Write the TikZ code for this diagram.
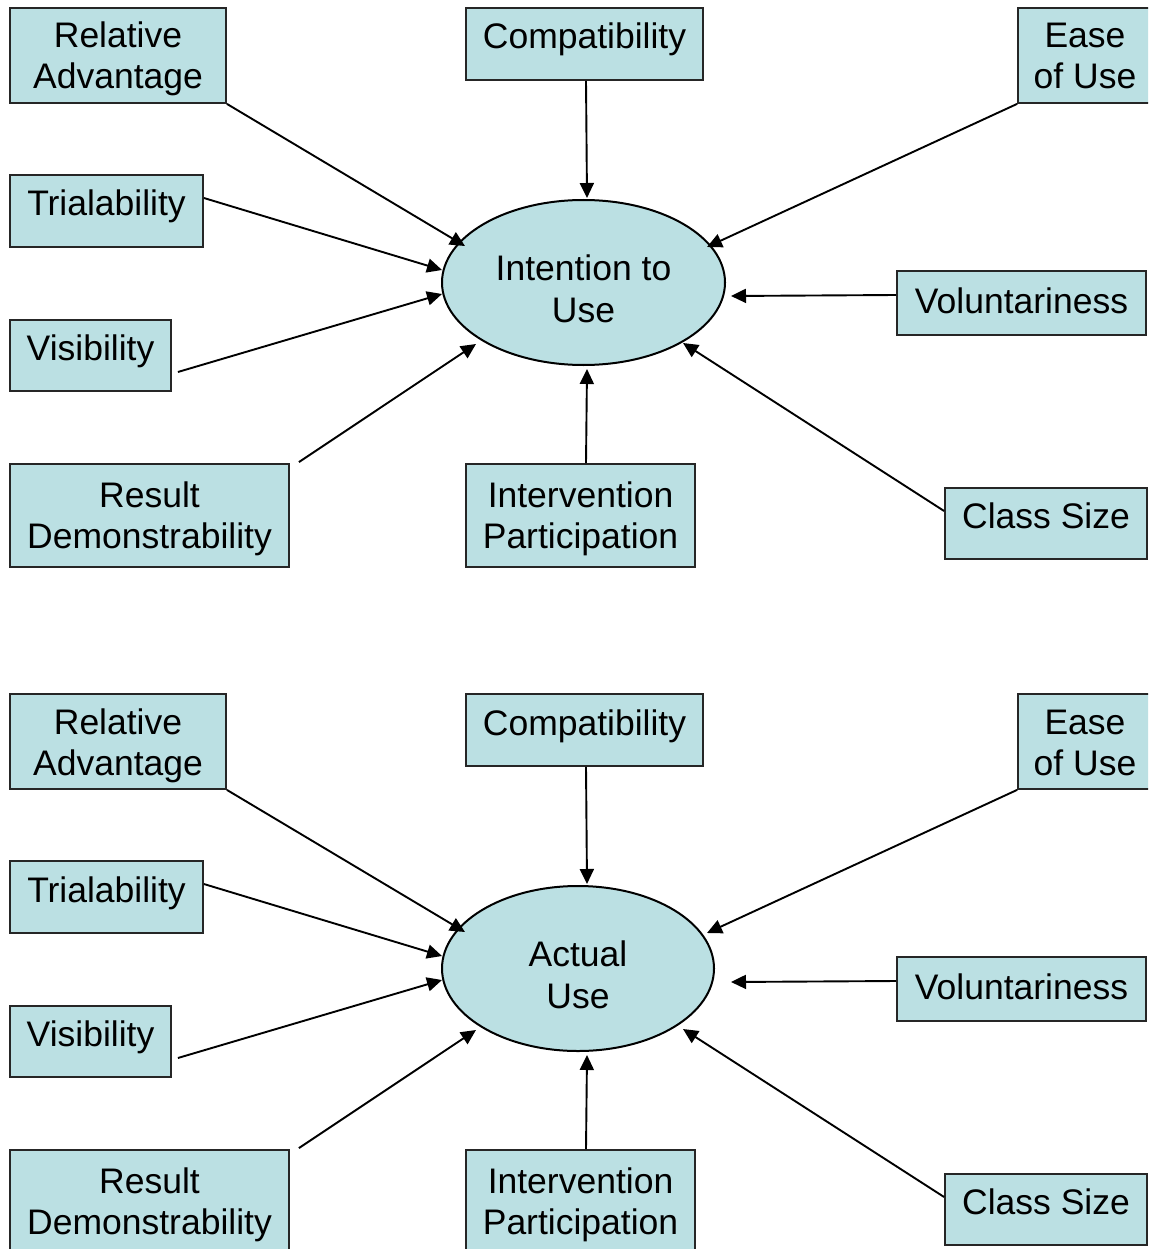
\documentclass[tikz,border=0pt]{standalone}
\usepackage{fontspec}
\setmainfont{Liberation Sans}
\usetikzlibrary{shapes.geometric,arrows.meta,calc}
\definecolor{boxfill}{RGB}{187,224,227}
\tikzset{
  box/.style={draw=black!85, line width=1.8pt, fill=boxfill, inner sep=0pt, align=center,
    font=\fontsize{35.5}{41}\selectfont},
  oneline/.style={text height=25pt, text depth=15pt},
  twoline/.style={text height=67pt, text depth=0pt},
  oval/.style={ellipse, draw=black, line width=2pt, fill=boxfill, inner sep=0pt,
    minimum height=165pt, align=center, font=\fontsize{35.5}{42}\selectfont,
    text height=79pt, text depth=0pt},
  arr/.style={-{Triangle[length=15pt,width=14pt]}, line width=1.9pt}
}
\newcommand\diagpanel[5]{%
\begin{scope}[yshift=#2]
  \node[box,twoline,minimum width=216pt,minimum height=95pt] (#1ra) at (118,55.5) {Relative\\Advantage};
  \node[box,oneline,minimum width=237pt,minimum height=72pt] (#1compat) at (584.5,44) {Compatibility};
  \node[box,twoline,minimum width=134pt,minimum height=95pt] (#1ease) at (1085,55.5) {Ease\\of Use};
  \node[box,oneline,minimum width=193pt,minimum height=72pt] (#1trial) at (106.5,211) {Trialability};
  \node[box,oneline,minimum width=161pt,minimum height=71pt] (#1vis) at (90.5,355.5) {Visibility};
  \node[box,oneline,minimum width=249pt,minimum height=64pt,text depth=5pt] (#1vol) at (1021.5,303) {Voluntariness};
  \node[box,twoline,minimum width=279pt,minimum height=103pt,text height=65pt] (#1rd) at (149.5,515.5) {Result\\Demonstrability};
  \node[box,twoline,minimum width=229pt,minimum height=103pt,text height=65pt] (#1interv) at (580.5,515.5) {Intervention\\Participation};
  \node[box,oneline,minimum width=202pt,minimum height=71pt] (#1class) at (1046,523.5) {Class Size};
  \node[oval,minimum width=#4] (#1use) at (#3,282.5) {#5};
  \coordinate (#1tra) at (465,246);
  \coordinate (#1ttrial) at (442,270);
  \coordinate (#1tvis) at (442,294);
  \coordinate (#1trd) at (476,344);
  \coordinate (#1tcompat) at (587,198);
  \coordinate (#1tinterv) at (587,369);
  \coordinate (#1tease) at (707,247);
  \coordinate (#1tvol) at (731,296);
  \coordinate (#1tclass) at (683,343);
  \draw[arr] (#1ra.south east) -- (#1tra);
  \draw[arr] ([yshift=13pt]#1trial.east) -- (#1ttrial);
  \draw[arr] ([xshift=6pt,yshift=-16.5pt]#1vis.east) -- (#1tvis);
  \draw[arr] ([xshift=9pt,yshift=1pt]#1rd.north east) -- (#1trd);
  \draw[arr] ([xshift=1.5pt]#1compat.south) -- (#1tcompat);
  \draw[arr] ([xshift=5.5pt]#1interv.north) -- (#1tinterv);
  \draw[arr] (#1ease.south west) -- (#1tease);
  \draw[arr] ([yshift=8pt]#1vol.west) -- (#1tvol);
  \draw[arr] ([yshift=12.5pt]#1class.west) -- (#1tclass);
\end{scope}}
\begin{document}
\begin{tikzpicture}[x=1pt,y=-1pt]
  \useasboundingbox (0,0) rectangle (1148,1249);
  \clip (0,0) rectangle (1148,1249);
  \diagpanel{a}{0pt}{583.5}{283pt}{Intention to\\Use}
  \diagpanel{b}{-686pt}{578}{272pt}{Actual\\Use}
\end{tikzpicture}
\end{document}
